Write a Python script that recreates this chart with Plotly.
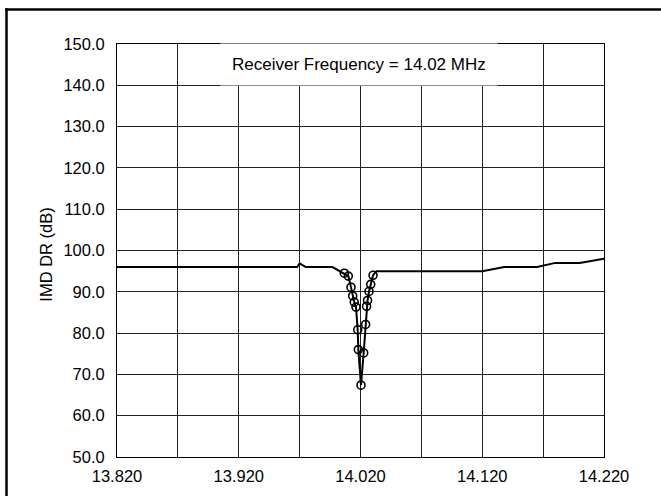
import plotly.graph_objects as go

# Sweep of IMD dynamic range versus the second-tone frequency (MHz, dB)
base_left_freq = [13.820, 13.968, 13.970, 13.975, 13.997]
base_left_dr = [96.0, 96.0, 96.9, 96.0, 96.0]

dip_freq = [14.0067, 14.0100, 14.0122, 14.0136, 14.0149, 14.0163, 14.0177,
            14.0182, 14.0204, 14.0226, 14.0242, 14.0250, 14.0258, 14.0270,
            14.0284, 14.0303]
dip_dr = [94.5, 93.8, 91.1, 89.0, 87.5, 86.3, 80.8,
          76.0, 67.4, 75.2, 82.1, 86.5, 87.9, 90.1,
          91.8, 94.0]

base_right_freq = [14.033, 14.120, 14.138, 14.165, 14.180, 14.200, 14.220]
base_right_dr = [95.0, 95.0, 96.0, 96.0, 97.0, 97.0, 98.0]

x_tick_vals = [13.820, 13.870, 13.920, 13.970, 14.020, 14.070, 14.120, 14.170, 14.220]
x_tick_text = ["13.820", "", "13.920", "", "14.020", "", "14.120", "", "14.220"]
y_tick_vals = [50, 60, 70, 80, 90, 100, 110, 120, 130, 140, 150]

annotation_text = "Receiver Frequency = 14.02 MHz"
y_title = "IMD DR (dB)"

W, H = 661, 496
ML, MR, MT, MB = 117, 57, 44, 39

font_family = "Liberation Sans, Arial, sans-serif"

fig = go.Figure()

fig.add_trace(go.Scatter(
    x=base_left_freq + dip_freq + base_right_freq,
    y=base_left_dr + dip_dr + base_right_dr,
    mode="lines",
    line=dict(color="black", width=2),
    hoverinfo="skip",
    showlegend=False,
))

fig.add_trace(go.Scatter(
    x=dip_freq,
    y=dip_dr,
    mode="markers",
    marker=dict(symbol="circle-open", size=8, color="black",
                line=dict(color="black", width=1.6)),
    showlegend=False,
))

fig.add_annotation(
    x=14.019, y=145, xref="x", yref="y",
    text=annotation_text, showarrow=False,
    font=dict(family=font_family, size=17, color="black"),
    bgcolor="white", borderpad=11,
)

pw = W - ML - MR
ph = H - MT - MB

fig.add_annotation(
    x=(46 - ML) / pw, y=0.49, xref="paper", yref="paper",
    xanchor="center", yanchor="middle",
    text=y_title, textangle=-90, showarrow=False,
    font=dict(family=font_family, size=16.5, color="black"),
)

# outer frame: left and top edges only
fx0 = (6.5 - ML) / pw
fy0 = (H - 9.5 - MB) / ph
fx1 = (W + 10 - ML) / pw
fy1 = -(MB + 10) / ph
frame = dict(color="black", width=2.5)
fig.add_shape(type="line", x0=fx0, x1=fx0, y0=fy1, y1=fy0 + 1.2 / ph,
              xref="paper", yref="paper", line=frame, layer="above")
fig.add_shape(type="line", x0=fx0 - 1.2 / pw, x1=fx1, y0=fy0, y1=fy0,
              xref="paper", yref="paper", line=frame, layer="above")

fig.update_xaxes(
    range=[13.820, 14.220],
    tickvals=x_tick_vals, ticktext=x_tick_text,
    showgrid=True, gridcolor="#222", gridwidth=1,
    showline=True, linecolor="black", linewidth=1, mirror=True,
    ticks="", zeroline=False, ticklabelstandoff=4,
    tickfont=dict(family=font_family, size=16.5, color="black"),
)
fig.update_yaxes(
    range=[50, 150],
    tickvals=y_tick_vals, tickformat=".1f",
    showgrid=True, gridcolor="#222", gridwidth=1,
    showline=True, linecolor="black", linewidth=1, mirror=True,
    ticks="", zeroline=False, ticklabelstandoff=8,
    tickfont=dict(family=font_family, size=16.5, color="black"),
)

fig.update_layout(
    width=W, height=H,
    margin=dict(l=ML, r=MR, t=MT, b=MB),
    paper_bgcolor="white", plot_bgcolor="white",
    showlegend=False,
)

fig.write_html("out.html")
